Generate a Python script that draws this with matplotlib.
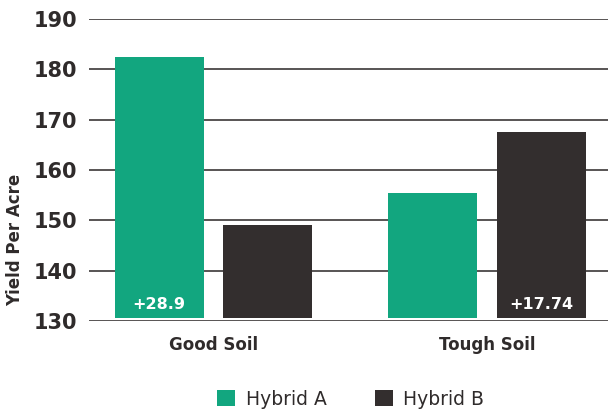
import numpy as np
import matplotlib
matplotlib.use("Agg")
import matplotlib.pyplot as plt

# data
soils = ["Good Soil", "Tough Soil"]
hybrid_a = [182.5, 155.5]
hybrid_b = [149.0, 167.5]
gain_labels = ["+28.9", "+17.74"]   # shown on the winning bar
gain_series = ["A", "B"]
yticks = [130, 140, 150, 160, 170, 180, 190]

GREEN = "#12a67f"
DARK = "#332e2e"
GRID = "#4a4646"
TEXT = "#2f2b2b"

plt.rcParams['font.family'] = ['DejaVu Sans']

fig = plt.figure(figsize=(6.08, 4.12), dpi=100)
ax = fig.add_axes([0.146, 0.221, 0.854, 0.733])

x = np.arange(len(soils))
w = 0.325
off = 0.1975
base = 130.6

for yv in yticks:
    ax.axhline(yv, color=GRID, lw=1.3, zorder=1)

bars_a = ax.bar(x - off, np.array(hybrid_a) - base, w, bottom=base,
                color=GREEN, zorder=2, label="Hybrid A")
bars_b = ax.bar(x + off, np.array(hybrid_b) - base, w, bottom=base,
                color=DARK, zorder=2, label="Hybrid B")

for i, (lab, s) in enumerate(zip(gain_labels, gain_series)):
    xc = x[i] - off if s == "A" else x[i] + off
    ax.text(xc, 133.3, lab, color="white", ha="center", va="center",
            fontsize=11.5, fontweight="bold", zorder=3)

ax.set_xlim(-0.455, 1.442)
ax.set_ylim(130, 190)
ax.set_yticks(yticks)
ax.set_yticklabels([str(v) for v in yticks], fontsize=15, fontweight="bold", color=TEXT)
ax.set_xticks(x)
ax.set_xticklabels(soils, fontsize=12, fontweight="bold", color=TEXT)
ax.tick_params(axis="both", length=0)
ax.tick_params(axis="y", pad=8)
ax.tick_params(axis="x", pad=11)
for sp in ax.spines.values():
    sp.set_visible(False)
ax.set_ylabel("Yield Per Acre", fontsize=12, fontweight="bold", color=TEXT)
ax.yaxis.set_label_coords(-0.124, 0.27)

fig.legend(handles=[bars_a, bars_b], labels=["Hybrid A", "Hybrid B"],
           loc="center", bbox_to_anchor=(0.577, 0.031), ncol=2, frameon=False,
           fontsize=13.5, handlelength=0.95, handleheight=0.95, handletextpad=0.55,
           columnspacing=2.6, labelcolor=TEXT)

fig.savefig("out.png", dpi=100)
